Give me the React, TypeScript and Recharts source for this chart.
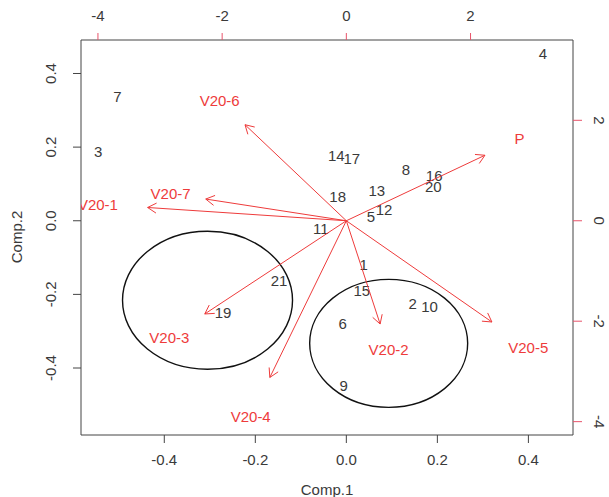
import { ScatterChart, Scatter, XAxis, YAxis, ReferenceDot } from "recharts";

// observations (scores) - bottom/left axes
const OBS_LABELS = ["1", "2", "3", "4", "5", "6", "7", "8", "9", "10", "11", "12", "13", "14", "15", "16", "17", "18", "19", "20", "21"];
const OBS_X = [0.038, 0.146, -0.545, 0.432, 0.054, -0.008, -0.503, 0.131, -0.006, 0.183, -0.056, 0.083, 0.067, -0.022, 0.034, 0.193, 0.012, -0.019, -0.271, 0.191, -0.148];
const OBS_Y = [-0.12, -0.225, 0.187, 0.454, 0.012, -0.278, 0.338, 0.139, -0.448, -0.233, -0.02, 0.03, 0.082, 0.178, -0.189, 0.122, 0.169, 0.065, -0.249, 0.092, -0.163];

// variables (loadings) - top/right axes
const VAR_LABELS = ["P", "V20-1", "V20-2", "V20-3", "V20-4", "V20-5", "V20-6", "V20-7"];
const VAR_X = [2.79, -4.0, 0.68, -2.85, -1.54, 2.93, -2.04, -2.83];
const VAR_Y = [1.63, 0.33, -2.57, -2.32, -3.9, -2.52, 2.39, 0.54];
const ARROW_SCALE = 0.8; // biplot draws arrows to 0.8 of the loading

const OBS_TICKS = [-0.4, -0.2, 0, 0.2, 0.4];
const VAR_TICKS = [-4, -2, 0, 2];

// hand drawn circles (centres in score units)
const CIRCLE_X = [-0.305, 0.093];
const CIRCLE_Y = [-0.216, -0.333];
const CIRCLE_RX = [85, 79];
const CIRCLE_RY = [69, 64];

const RED = "#ee3b3b";
const INK = "#3a3a3a";
const FONT = "'Liberation Sans', Arial, sans-serif";

const obsData = OBS_LABELS.map((l, i) => ({ x: OBS_X[i], y: OBS_Y[i], label: l }));
const varData = VAR_LABELS.map((l, i) => ({ x: VAR_X[i], y: VAR_Y[i], label: l }));

const ObsLabel = (p: any) => (
  <text x={p.cx} y={p.cy} textAnchor="middle" dominantBaseline="central" fontSize={15} fill={INK} fontFamily={FONT}>
    {p.payload.label}
  </text>
);

const VarLabel = (p: any) => (
  <text x={p.cx} y={p.cy} textAnchor="middle" dominantBaseline="central" fontSize={15} fill={RED} fontFamily={FONT}>
    {p.payload.label}
  </text>
);

const arrowLine = (props: any) => {
  const pts = props.points;
  if (!pts || pts.length < 2) return <g />;
  const a = pts[0];
  const b = pts[1];
  const ang = Math.atan2(b.y - a.y, b.x - a.x);
  const len = 10;
  const spread = Math.PI / 6;
  const h1x = b.x - len * Math.cos(ang - spread);
  const h1y = b.y - len * Math.sin(ang - spread);
  const h2x = b.x - len * Math.cos(ang + spread);
  const h2y = b.y - len * Math.sin(ang + spread);
  return (
    <g stroke={RED} strokeWidth={1} fill="none">
      <line x1={a.x} y1={a.y} x2={b.x} y2={b.y} />
      <polyline points={`${h1x},${h1y} ${b.x},${b.y} ${h2x},${h2y}`} />
    </g>
  );
};

const LeftTick = (p: any) => {
  const cx = p.x - 20;
  return (
    <text x={cx} y={p.y} transform={`rotate(-90 ${cx} ${p.y})`} textAnchor="middle" dominantBaseline="central" fontSize={15} fill={INK} fontFamily={FONT}>
      {Number(p.payload.value).toFixed(1)}
    </text>
  );
};

const RightTick = (p: any) => {
  const cx = p.x + 15;
  return (
    <text x={cx} y={p.y} transform={`rotate(90 ${cx} ${p.y})`} textAnchor="middle" dominantBaseline="central" fontSize={15} fill={INK} fontFamily={FONT}>
      {String(p.payload.value)}
    </text>
  );
};

export default function App() {
  const tickStyle = { fontSize: 15, fill: INK, fontFamily: FONT };
  return (
    <div style={{ position: "absolute", left: 0, top: 0, background: "#fff" }}>
      <ScatterChart width={609} height={497} margin={{ top: 0, right: 0, bottom: 0, left: 0 }}>
        <XAxis
          xAxisId="obs" type="number" dataKey="x" orientation="bottom" height={62}
          domain={[-0.583, 0.498]} ticks={OBS_TICKS} allowDataOverflow
          tickFormatter={(v: number) => v.toFixed(1)} tick={tickStyle}
          tickSize={8} tickMargin={11}
          axisLine={{ stroke: "#444" }} tickLine={{ stroke: "#444" }}
          label={{
            content: () => (
              <text x={327} y={495} textAnchor="middle" fontSize={15} fill={INK} fontFamily={FONT}>Comp.1</text>
            ),
          }}
        />
        <XAxis
          xAxisId="var" type="number" dataKey="x" orientation="top" height={40}
          domain={[-4.273, 3.65]} ticks={VAR_TICKS} allowDataOverflow
          tick={tickStyle} tickSize={7} tickMargin={12}
          axisLine={{ stroke: "#444" }} tickLine={{ stroke: "#e8536a" }}
        />
        <YAxis
          yAxisId="obs" type="number" dataKey="y" orientation="left" width={81}
          domain={[-0.582, 0.491]} ticks={OBS_TICKS} allowDataOverflow
          tick={<LeftTick />} tickSize={8} tickMargin={2}
          axisLine={{ stroke: "#444" }} tickLine={{ stroke: "#444" }}
          label={{
            content: () => (
              <text x={16} y={237} transform="rotate(-90 16 237)" textAnchor="middle" dominantBaseline="central" fontSize={15} fill={INK} fontFamily={FONT}>Comp.2</text>
            ),
          }}
        />
        <YAxis
          yAxisId="var" type="number" dataKey="y" orientation="right" width={36}
          domain={[-4.266, 3.599]} ticks={VAR_TICKS} allowDataOverflow
          tick={<RightTick />} tickSize={9} tickMargin={2}
          axisLine={{ stroke: "#444" }} tickLine={{ stroke: "#e8536a" }}
        />

        {CIRCLE_X.map((cx, i) => (
          <ReferenceDot
            key={"c" + i} xAxisId="obs" yAxisId="obs" x={cx} y={CIRCLE_Y[i]}
            shape={(p: any) => (
              <ellipse cx={p.cx} cy={p.cy} rx={CIRCLE_RX[i]} ry={CIRCLE_RY[i]} fill="none" stroke="#111" strokeWidth={1.4} />
            )}
          />
        ))}

        <Scatter xAxisId="obs" yAxisId="obs" data={obsData} shape={ObsLabel} isAnimationActive={false} />

        {varData.map((v) => (
          <Scatter
            key={v.label} xAxisId="var" yAxisId="var"
            data={[{ x: 0, y: 0 }, { x: v.x * ARROW_SCALE, y: v.y * ARROW_SCALE }]}
            line={arrowLine} shape={() => <g />} isAnimationActive={false}
          />
        ))}

        <Scatter xAxisId="var" yAxisId="var" data={varData} shape={VarLabel} isAnimationActive={false} />
      </ScatterChart>
    </div>
  );
}
